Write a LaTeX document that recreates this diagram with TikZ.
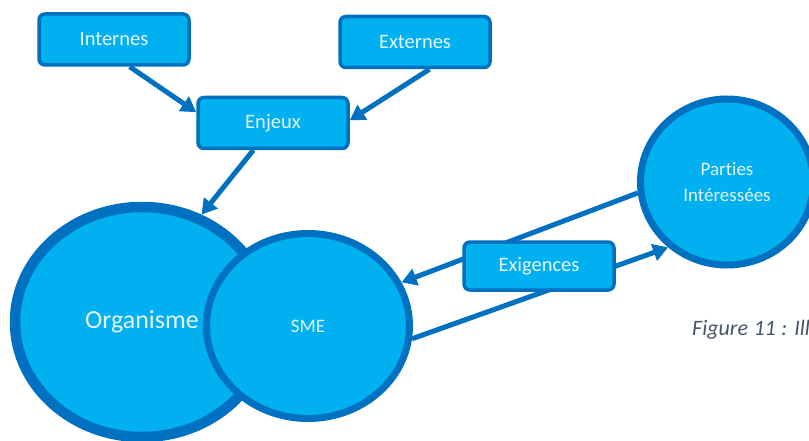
\documentclass[tikz,border=0pt]{standalone}
\usepackage{fontspec}
\setmainfont{Carlito}[Ligatures=NoCommon]
\usetikzlibrary{shapes.geometric,arrows.meta}
\definecolor{fillblue}{HTML}{00B0F0}
\definecolor{lineblue}{HTML}{0070C0}
\definecolor{txtcol}{HTML}{E6F5FD}
\definecolor{captxt}{HTML}{44546A}
\begin{document}
\begin{tikzpicture}[x=1pt,y=-1pt,
  box/.style={draw=lineblue,fill=fillblue,line width=3.5pt,rounded corners=6pt,
    minimum width=150pt,minimum height=51pt,inner sep=0pt,text=txtcol,
    font=\fontsize{20.5}{24}\selectfont},
  bubble/.style={ellipse,draw=lineblue,fill=fillblue,inner sep=0pt,text=txtcol,align=center},
  link/.style={draw=lineblue,line width=5pt,-{Triangle[length=15pt,width=17pt]}}]
\useasboundingbox (0,0) rectangle (809,441);
% top boxes
\node[box] (int) at (114,39.5) {Internes};
\node[box] (ext) at (415,42) {Externes};
\node[box] (enj) at (273,123) {Enjeux};
% circles
\node[bubble,line width=10.5pt,minimum width=254pt,minimum height=230pt,
  font=\fontsize{26}{30}\selectfont] (org) at (142,322) {Organisme};
\node[bubble,line width=7pt,minimum width=203pt,minimum height=185pt,
  font=\fontsize{19}{23}\selectfont] (sme) at (308,326) {SME};
\node[bubble,line width=7pt,minimum width=173pt,minimum height=166pt,
  font=\fontsize{19}{26}\selectfont] (pi) at (727,182) {Parties\\Intéressées};
% arrows
\draw[link] (int.-60) -- (enj.172.7);
\draw[link] (ext.-62) -- (enj.2.2);
\draw[link] (enj.-126.5) -- (org.61.2);
\draw[link] (pi.187) -- (sme.25);
\draw[link] (sme.-7.6) -- (pi.-132.3);
\node[box,minimum height=48pt] (exi) at (539,266) {Exigences};
% caption
\node[anchor=base west,inner sep=0pt,text=captxt,
  font=\fontsize{22}{26}\selectfont\itshape] (cap) at (692,335)
  {\spaceskip=5.5pt\relax Figure 11 : Ill};
\end{tikzpicture}
\end{document}
